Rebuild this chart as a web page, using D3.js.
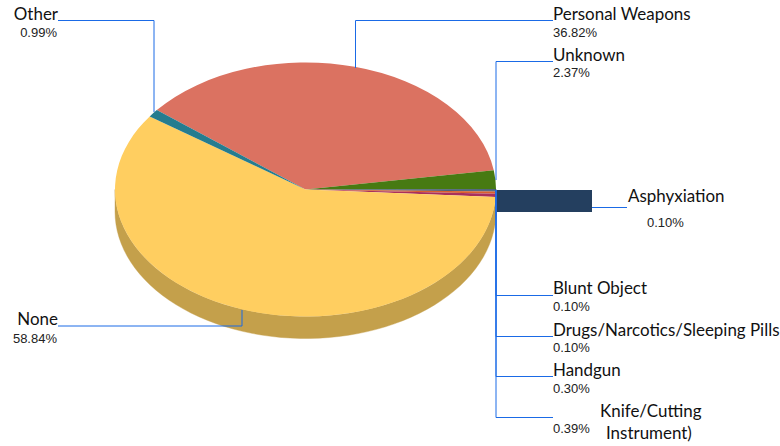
<!DOCTYPE html>
<html><head><meta charset="utf-8">
<script src="https://cdn.jsdelivr.net/npm/d3@7/dist/d3.min.js"></script>
<style>html,body{margin:0;padding:0;background:#fff}svg{display:block}</style>
</head><body><svg id="c" width="780" height="446"></svg>
<script>
const categories = ["Personal Weapons","Unknown","Asphyxiation","Blunt Object","Drugs/Narcotics/Sleeping Pills","Handgun","Knife/Cutting Instrument)","None","Other"];
const values = [36.82,2.37,0.10,0.10,0.10,0.30,0.39,58.84,0.99];
const labels = ["36.82%","2.37%","0.10%","0.10%","0.10%","0.30%","0.39%","58.84%","0.99%"];
const colors = ["#db7261","#477a12","#243f5f","#243f5f","#243f5f","#d9602e","#a9305c","#ffce60","#257c8f"];
const wallColors = ["#a85a4c","#355c0e","#1b2f47","#1b2f47","#1b2f47","#a34a22","#7f2445","#c4a04b","#1c5d6b"];

const cx=305.5, cy=189.5, rx=190.5, ry=127, depth=22;
const svg=d3.select("#c");
const startA=-51.3*Math.PI/180;
const arcs=d3.pie().sort(null).value(d=>d).startAngle(startA).endAngle(startA+2*Math.PI)(values);
const pt=(a,dy)=>[cx+rx*Math.sin(a),cy-ry*Math.cos(a)+dy];
const line=d3.line();

arcs.forEach((d,i)=>{
  const a0=Math.max(d.startAngle,Math.PI/2), a1=Math.min(d.endAngle,1.5*Math.PI);
  if(a1<=a0) return;
  const steps=d3.range(0,61).map(k=>a0+(a1-a0)*k/60);
  const top=steps.map(a=>pt(a,0));
  const bot=steps.slice().reverse().map(a=>pt(a,depth));
  svg.append("path").attr("d",line(top.concat(bot))+"Z").attr("fill",wallColors[i]).attr("stroke",wallColors[i]).attr("stroke-width",0.4);
});

const arcGen=d3.arc().innerRadius(0).outerRadius(rx);
svg.append("g").attr("transform",`translate(${cx},${cy}) scale(1,${ry/rx})`)
  .selectAll("path").data(arcs).join("path")
  .attr("d",arcGen).attr("fill",(d,i)=>colors[i]);

const lineColor="#1a6ae6";
svg.append("rect").attr("x",497).attr("y",190).attr("width",95).attr("height",22).attr("fill",colors[2]);

const leaders=[
 [[355.5,68],[355.5,20.5],[553,20.5]],
 [[496,180],[496,61.5],[553,61.5]],
 [[592,207.5],[627,207.5]],
 [[496,190],[496,295.5],[553,295.5]],
 [[496,190],[496,336.5],[553,336.5]],
 [[496,190],[496,376.5],[553,376.5]],
 [[496,190],[496,417.5],[553,417.5]],
 [[242,310],[242,326],[58,326]],
 [[154,112],[154,20.5],[58,20.5]]
];
svg.append("g").selectAll("path").data(leaders).join("path")
  .attr("d",d=>line(d)).attr("fill","none").attr("stroke",lineColor).attr("stroke-width",1);

const nameSpec=[
 {x:553,y:20,a:"start"},{x:553,y:61,a:"start"},{x:628,y:202,a:"start"},
 {x:553,y:294,a:"start"},{x:553,y:336,a:"start"},{x:553,y:376,a:"start"},
 {x:600,y:417,a:"start"},{x:58,y:20,a:"end"},{x:58,y:325,a:"end"}];
const order=[0,1,2,3,4,5,6,8,7];
const fs=16.95;
order.forEach((idx,k)=>{
  const s=nameSpec[k];
  const add=(x,y,t,a)=>svg.append("text").attr("x",x).attr("y",y).attr("text-anchor",a).attr("font-family","Lato").attr("font-size",fs).attr("fill","#111").text(t);
  if(idx===6){
    add(s.x,s.y,"Knife/Cutting","start");
    add(606,439,"Instrument)","start");
  } else add(s.x,s.y,categories[idx],s.a);
});
const pctSpec=[[553,37,"start"],[553,77,"start"],[647,227,"start"],[553,311,"start"],[553,352,"start"],[553,393,"start"],[553,433,"start"],[57,343,"end"],[57,37,"end"]];
labels.forEach((l,i)=>{
  const p=pctSpec[i];
  svg.append("text").attr("x",p[0]).attr("y",p[1]).attr("text-anchor",p[2]).attr("font-family","Liberation Sans").attr("font-size",13).attr("fill","#222").text(l);
});
</script></body></html>
